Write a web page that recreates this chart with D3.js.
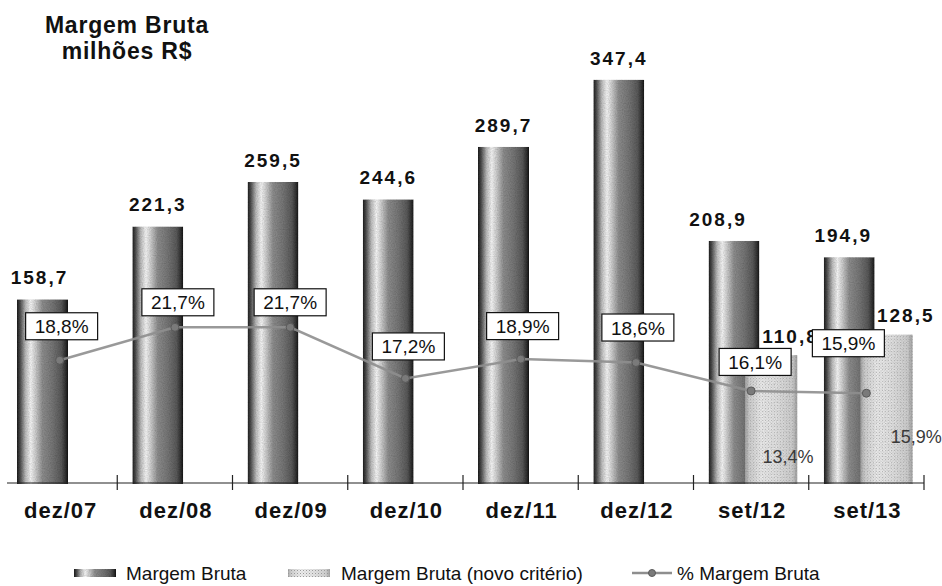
<!DOCTYPE html>
<html>
<head>
<meta charset="utf-8">
<script src="https://cdn.jsdelivr.net/npm/d3@7"></script>
<style>
  html, body { margin: 0; padding: 0; background: #fff; }
  svg { display: block; }
  text { font-family: "Liberation Sans", Arial, sans-serif; }
</style>
</head>
<body>
<svg id="chart" width="942" height="586"></svg>
<script>
// ---------- data ----------
const categories   = ["dez/07", "dez/08", "dez/09", "dez/10", "dez/11", "dez/12", "set/12", "set/13"];
const margemBruta  = [158.7, 221.3, 259.5, 244.6, 289.7, 347.4, 208.9, 194.9];
const margemNovo   = [null, null, null, null, null, null, 110.8, 128.5];
const pctMargem    = [18.8, 21.7, 21.7, 17.2, 18.9, 18.6, 16.1, 15.9];
const pctNovo      = [null, null, null, null, null, null, 13.4, 15.9];
const titleLines   = ["Margem Bruta", "milhões R$"];
const legendLabels = ["Margem Bruta", "Margem Bruta (novo critério)", "% Margem Bruta"];

// ---------- layout (label nudges, not data) ----------
const pctBoxDx   = [2, 3, 0, 3, 2, 2, 4, -18];
const pctBoxDy   = [-34, -25, -25, -32, -33, -35, -29, -50];
const darkLblDx  = [-3, 0, 0, 0, 0, 0, -16, -6];
const novoPctDx  = [0, 0, 0, 0, 0, 0, 17, 30];
const novoPctY   = [0, 0, 0, 0, 0, 0, 463, 443];

const fmt1 = v => d3.format(".1f")(v).replace(".", ",");
const fmtPct = v => fmt1(v) + "%";

const svg = d3.select("#chart");
const W = 942, H = 586;
svg.append("rect").attr("width", W).attr("height", H).attr("fill", "#fff");

const baseY = 484;
const x = d3.scaleBand().domain(categories).range([2, 924]).padding(0);
const y = d3.scaleLinear().domain([0, 400]).range([baseY, baseY - 400 * 1.164]);
const y2 = d3.scaleLinear().domain([8, 49]).range([483, 17]);

const defs = svg.append("defs");
function grad(id, stops) {
  const g = defs.append("linearGradient").attr("id", id)
    .attr("x1", "0%").attr("x2", "100%").attr("y1", "0%").attr("y2", "0%");
  stops.forEach(s => g.append("stop").attr("offset", s[0]).attr("stop-color", s[1]));
}
grad("darkG", [[0, "#1a1a1a"], [0.06, "#4a4a4a"], [0.17, "#bdbdbd"], [0.27, "#f4f4f4"], [0.36, "#cdcdcd"],
               [0.5, "#8c8c8c"], [0.7, "#747474"], [0.87, "#585858"], [0.96, "#2c2c2c"], [1, "#111"]]);
grad("lightG", [[0, "#a5a5a5"], [0.08, "#cfcfcf"], [0.3, "#ededed"], [0.6, "#e3e3e3"], [0.9, "#cecece"], [1, "#9c9c9c"]]);

// grain filter to mimic dithered print
const f = defs.append("filter").attr("id", "grain").attr("x", 0).attr("y", 0).attr("width", 1).attr("height", 1);
f.append("feTurbulence").attr("type", "fractalNoise").attr("baseFrequency", 0.85).attr("numOctaves", 1).attr("seed", 4).attr("result", "t");
f.append("feColorMatrix").attr("in", "t").attr("type", "saturate").attr("values", 0).attr("result", "g");
const ct = f.append("feComponentTransfer").attr("in", "g").attr("result", "g2");
ct.append("feFuncR").attr("type", "linear").attr("slope", 0.7).attr("intercept", 0.55);
ct.append("feFuncG").attr("type", "linear").attr("slope", 0.7).attr("intercept", 0.55);
ct.append("feFuncB").attr("type", "linear").attr("slope", 0.7).attr("intercept", 0.55);
ct.append("feFuncA").attr("type", "linear").attr("slope", 0).attr("intercept", 1);
f.append("feBlend").attr("in", "SourceGraphic").attr("in2", "g2").attr("mode", "multiply").attr("result", "b");
f.append("feComposite").attr("in", "b").attr("in2", "SourceGraphic").attr("operator", "in");

const pat = defs.append("pattern").attr("id", "dots").attr("width", 3).attr("height", 3).attr("patternUnits", "userSpaceOnUse");
pat.append("rect").attr("x", 0).attr("y", 0).attr("width", 1).attr("height", 1).attr("fill", "#9a9a9a");
pat.append("rect").attr("x", 1.5).attr("y", 1.5).attr("width", 1).attr("height", 1).attr("fill", "#bdbdbd");

// ---------- title ----------
svg.append("text").attr("x", 127).attr("y", 33).attr("text-anchor", "middle")
  .attr("font-size", 23).attr("font-weight", "bold").attr("letter-spacing", 0.8).attr("fill", "#111")
  .text(titleLines[0]);
svg.append("text").attr("x", 127).attr("y", 59).attr("text-anchor", "middle")
  .attr("font-size", 23).attr("font-weight", "bold").attr("letter-spacing", 0.8).attr("fill", "#111")
  .text(titleLines[1]);

// ---------- bars ----------
const darkOff = 15, darkW = 51, lightOff = 52, lightW = 52;
const darkBars = svg.append("g");
darkBars.selectAll("rect").data(categories).join("rect")
  .attr("x", c => x(c) + darkOff)
  .attr("y", (c, i) => y(margemBruta[i]))
  .attr("width", darkW)
  .attr("height", (c, i) => y(0) - y(margemBruta[i]))
  .attr("fill", "url(#darkG)")
  .attr("filter", "url(#grain)");

const novoIdx = categories.map((c, i) => i).filter(i => margemNovo[i] != null);
const lightBars = svg.append("g");
lightBars.selectAll("rect.l").data(novoIdx).join("rect").attr("class", "l")
  .attr("x", i => x(categories[i]) + lightOff)
  .attr("y", i => y(margemNovo[i]))
  .attr("width", lightW)
  .attr("height", i => y(0) - y(margemNovo[i]))
  .attr("fill", "url(#lightG)")
  .attr("filter", "url(#grain)");
lightBars.selectAll("rect.d").data(novoIdx).join("rect").attr("class", "d")
  .attr("x", i => x(categories[i]) + lightOff)
  .attr("y", i => y(margemNovo[i]))
  .attr("width", lightW)
  .attr("height", i => y(0) - y(margemNovo[i]))
  .attr("fill", "url(#dots)").attr("opacity", 0.55);

// ---------- axis ----------
const ax = svg.append("g");
ax.append("line").attr("x1", 7).attr("x2", 924).attr("y1", 483).attr("y2", 483)
  .attr("stroke", "#222").attr("stroke-width", 1.2);
ax.selectAll("line.t").data(categories).join("line").attr("class", "t")
  .attr("x1", c => x(c) + x.bandwidth()).attr("x2", c => x(c) + x.bandwidth())
  .attr("y1", 475).attr("y2", 490).attr("stroke", "#222").attr("stroke-width", 1.2);
ax.selectAll("text").data(categories).join("text")
  .attr("x", c => x(c) + x.bandwidth() / 2 + 1)
  .attr("y", 518)
  .attr("text-anchor", "middle")
  .attr("font-size", 22).attr("font-weight", "bold").attr("letter-spacing", 1).attr("fill", "#111")
  .text(c => c);

// ---------- value labels ----------
svg.append("g").selectAll("text").data(categories).join("text")
  .attr("x", (c, i) => x(c) + darkOff + darkW / 2 + darkLblDx[i])
  .attr("y", (c, i) => y(margemBruta[i]) - 15)
  .attr("text-anchor", "middle")
  .attr("font-size", 19).attr("font-weight", "bold").attr("letter-spacing", 2).attr("fill", "#111")
  .text((c, i) => fmt1(margemBruta[i]));
svg.append("g").selectAll("text").data(novoIdx).join("text")
  .attr("x", i => x(categories[i]) + lightOff + lightW / 2 + 19)
  .attr("y", i => y(margemNovo[i]) - 12)
  .attr("text-anchor", "middle")
  .attr("font-size", 19).attr("font-weight", "bold").attr("letter-spacing", 2).attr("fill", "#111")
  .text(i => fmt1(margemNovo[i]));

// ---------- % line ----------
const cx = c => x(c) + x.bandwidth() / 2;
const line = d3.line().x((d, i) => cx(categories[i])).y(d => y2(d));
svg.append("path").datum(pctMargem).attr("d", line)
  .attr("fill", "none").attr("stroke", "#8e8e8e").attr("stroke-width", 2.5).attr("opacity", 0.9);
svg.append("g").selectAll("circle").data(pctMargem).join("circle")
  .attr("cx", (d, i) => cx(categories[i])).attr("cy", d => y2(d)).attr("r", 4)
  .attr("fill", "#7a7a7a").attr("stroke", "#5a5a5a").attr("stroke-width", 1);

// boxes
const bw = 72, bh = 27;
const boxes = svg.append("g").selectAll("g").data(pctMargem).join("g")
  .attr("transform", (d, i) => `translate(${cx(categories[i]) + pctBoxDx[i]},${y2(d) + pctBoxDy[i]})`);
boxes.append("rect").attr("x", -bw / 2).attr("y", -bh / 2).attr("width", bw).attr("height", bh)
  .attr("fill", "#fff").attr("stroke", "#111").attr("stroke-width", 1.2);
boxes.append("text").attr("x", 0).attr("y", 7).attr("text-anchor", "middle")
  .attr("font-size", 19).attr("fill", "#111").text(d => fmtPct(d));

// novo critério % labels
svg.append("g").selectAll("text").data(novoIdx).join("text")
  .attr("x", i => x(categories[i]) + lightOff + novoPctDx[i])
  .attr("y", i => novoPctY[i])
  .attr("font-size", 18).attr("fill", "#3a3a3a")
  .text(i => fmtPct(pctNovo[i]));

// ---------- legend ----------
const lg = svg.append("g");
const ly = 580, sy = 573;
lg.append("rect").attr("x", 74).attr("y", sy - 4).attr("width", 42).attr("height", 8)
  .attr("fill", "url(#darkG)").attr("filter", "url(#grain)");
lg.append("text").attr("x", 126).attr("y", ly).attr("font-size", 19).attr("fill", "#111").text(legendLabels[0]);
lg.append("rect").attr("x", 288).attr("y", sy - 4).attr("width", 42).attr("height", 8)
  .attr("fill", "url(#lightG)");
lg.append("rect").attr("x", 288).attr("y", sy - 4).attr("width", 42).attr("height", 8)
  .attr("fill", "url(#dots)");
lg.append("text").attr("x", 341).attr("y", ly).attr("font-size", 19).attr("fill", "#111").text(legendLabels[1]);
lg.append("line").attr("x1", 632).attr("x2", 672).attr("y1", sy).attr("y2", sy)
  .attr("stroke", "#8e8e8e").attr("stroke-width", 2.5);
lg.append("circle").attr("cx", 652).attr("cy", sy).attr("r", 3.5)
  .attr("fill", "#7a7a7a").attr("stroke", "#5a5a5a");
lg.append("text").attr("x", 677).attr("y", ly).attr("font-size", 19).attr("fill", "#111").text(legendLabels[2]);
</script>
</body>
</html>
